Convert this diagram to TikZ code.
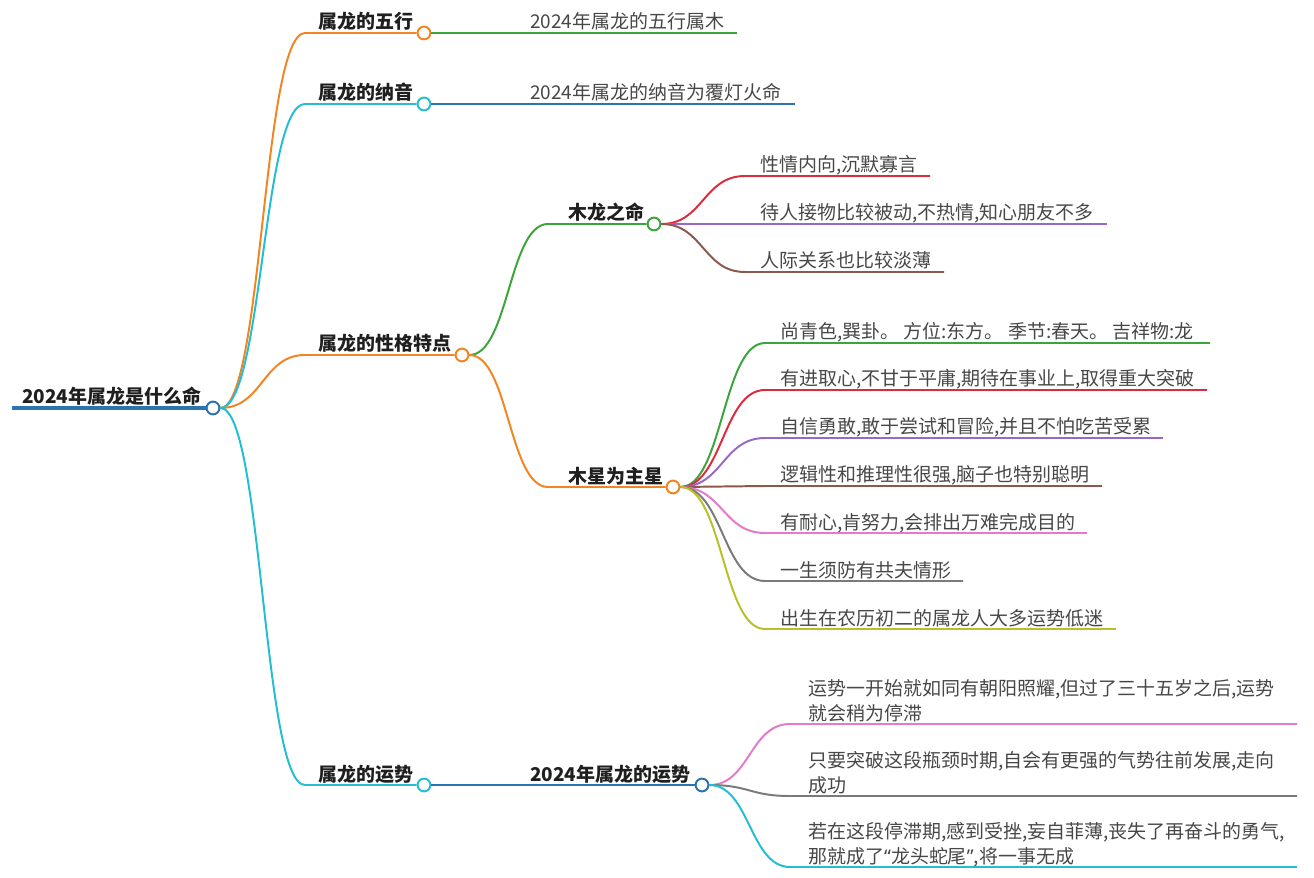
\documentclass[tikz,border=0pt]{standalone}
\usepackage{fontspec}
\setmainfont{Noto Sans CJK SC}
\newfontfamily\quotefont{Noto Sans}
\usetikzlibrary{calc}
\definecolor{orangeline}{RGB}{242,133,34}
\definecolor{cyanline}{RGB}{36,189,210}
\definecolor{blueline}{RGB}{44,115,177}
\definecolor{greenline}{RGB}{58,166,58}
\definecolor{redline}{RGB}{221,42,62}
\definecolor{purpleline}{RGB}{152,104,200}
\definecolor{brownline}{RGB}{140,88,76}
\definecolor{pinkline}{RGB}{228,122,200}
\definecolor{grayline}{RGB}{122,122,122}
\definecolor{oliveline}{RGB}{186,190,42}

\begin{document}
\begin{tikzpicture}[
    x=0.025cm, y=-0.025cm,
    title/.style={font=\bfseries\fontsize{13.5}{16}\selectfont, text=black!88, inner sep=0pt, anchor=base west},
    leaf/.style={font=\fontsize{13.5}{17.4}\selectfont, text=black!72, inner sep=0pt, anchor=base west, align=left},
    hub/.style={circle, draw=#1, fill=white, line width=1.4pt, minimum size=0.32cm, inner sep=0pt},
    link/.style={draw=#1, line width=1.4pt},
    branch/.style={to path={let \p1=(\tikztostart), \p2=(\tikztotarget) in
        .. controls ({(\x1+\x2)/2},\y1) and ({(\x1+\x2)/2},\y2) .. (\tikztotarget)}}
]
\useasboundingbox (0,0) rectangle (1314,878);

% Root
\node[title] (root) at (22,404) {2024年属龙是什么命};
\node[hub=blueline] (h0) at (213,408) {};
\coordinate (bar) at (12,408);
\draw[link=blueline, line width=3.2pt] (bar) -- (h0.west);

% Level 1
\node[title] (wuxing) at (318,29) {属龙的五行};
\node[hub=orangeline] (hwuxing) at (424,33) {};
\coordinate (swuxing) at (305,33);

\node[title] (nayin) at (318,100) {属龙的纳音};
\node[hub=cyanline] (hnayin) at (424,104) {};
\coordinate (snayin) at (305,104);

\node[title] (xingge) at (318,351) {属龙的性格特点};
\node[hub=orangeline] (hxingge) at (462,355) {};
\coordinate (sxingge) at (305,355);

\node[title] (yunshi) at (318,781) {属龙的运势};
\node[hub=cyanline] (hyunshi) at (424,785) {};
\coordinate (syunshi) at (305,785);

\draw[link=orangeline] (h0.east) to[branch] (swuxing) -- (hwuxing.west);
\draw[link=cyanline] (h0.east) to[branch] (snayin) -- (hnayin.west);
\draw[link=orangeline] (h0.east) to[branch] (sxingge) -- (hxingge.west);
\draw[link=cyanline] (h0.east) to[branch] (syunshi) -- (hyunshi.west);

% Wuxing and nayin
\node[leaf] (wuxingA) at (530,29) {2024年属龙的五行属木};
\coordinate (ewuxing) at (737,33);
\draw[link=greenline] (hwuxing.east) -- (ewuxing);

\node[leaf] (nayinA) at (530,100) {2024年属龙的纳音为覆灯火命};
\coordinate (enayin) at (795,104);
\draw[link=blueline] (hnayin.east) -- (enayin);

% Xingge
\node[title] (mulong) at (568,220) {木龙之命};
\node[hub=greenline] (hmulong) at (654,224) {};
\coordinate (smulong) at (548,224);

\node[title] (muxing) at (568,483) {木星为主星};
\node[hub=orangeline] (hmuxing) at (673,487) {};
\coordinate (smuxing) at (548,487);

\draw[link=greenline] (hxingge.east) to[branch] (smulong) -- (hmulong.west);
\draw[link=orangeline] (hxingge.east) to[branch] (smuxing) -- (hmuxing.west);

% Mulong leaves
\node[leaf] (mlA) at (760,172) {性情内向,沉默寡言};
\node[leaf] (mlB) at (760,220) {待人接物比较被动,不热情,知心朋友不多};
\node[leaf] (mlC) at (760,268) {人际关系也比较淡薄};
\coordinate (smlA) at (745,176); \coordinate (emlA) at (930,176);
\coordinate (smlB) at (745,224); \coordinate (emlB) at (1107,224);
\coordinate (smlC) at (745,272); \coordinate (emlC) at (944,272);
\draw[link=redline] (hmulong.east) to[branch] (smlA) -- (emlA);
\draw[link=purpleline] (hmulong.east) to[branch] (smlB) -- (emlB);
\draw[link=brownline] (hmulong.east) to[branch] (smlC) -- (emlC);

% Muxing leaves
\node[leaf] (mxA) at (780,339) {尚青色,巽卦。 方位:东方。 季节:春天。 吉祥物:龙};
\node[leaf] (mxB) at (780,386) {有进取心,不甘于平庸,期待在事业上,取得重大突破};
\node[leaf] (mxC) at (780,434) {自信勇敢,敢于尝试和冒险,并且不怕吃苦受累};
\node[leaf] (mxD) at (780,482) {逻辑性和推理性很强,脑子也特别聪明};
\node[leaf] (mxE) at (780,529) {有耐心,肯努力,会排出万难完成目的};
\node[leaf] (mxF) at (780,577) {一生须防有共夫情形};
\node[leaf] (mxG) at (780,625) {出生在农历初二的属龙人大多运势低迷};
\coordinate (smxA) at (765,343); \coordinate (emxA) at (1210,343);
\coordinate (smxB) at (765,390); \coordinate (emxB) at (1207,390);
\coordinate (smxC) at (765,438); \coordinate (emxC) at (1163,438);
\coordinate (smxD) at (765,486); \coordinate (emxD) at (1102,486);
\coordinate (smxE) at (765,533); \coordinate (emxE) at (1087,533);
\coordinate (smxF) at (765,581); \coordinate (emxF) at (963,581);
\coordinate (smxG) at (765,629); \coordinate (emxG) at (1116,629);
\draw[link=greenline] (hmuxing.east) to[branch] (smxA) -- (emxA);
\draw[link=redline] (hmuxing.east) to[branch] (smxB) -- (emxB);
\draw[link=purpleline] (hmuxing.east) to[branch] (smxC) -- (emxC);
\draw[link=brownline] (hmuxing.east) to[branch] (smxD) -- (emxD);
\draw[link=pinkline] (hmuxing.east) to[branch] (smxE) -- (emxE);
\draw[link=grayline] (hmuxing.east) to[branch] (smxF) -- (emxF);
\draw[link=oliveline] (hmuxing.east) to[branch] (smxG) -- (emxG);

% Yunshi
\node[title] (yunshiB) at (530,781) {2024年属龙的运势};
\node[hub=blueline] (hyunshiB) at (702,785) {};
\draw[link=blueline] (hyunshi.east) -- (hyunshiB.west);

\node[leaf] (ysA) at (808,720) {运势一开始就如同有朝阳照耀,但过了三十五岁之后,运势\\就会稍为停滞};
\node[leaf] (ysB) at (808,792) {只要突破这段瓶颈时期,自会有更强的气势往前发展,走向\\成功};
\node[leaf] (ysC) at (808,863) {若在这段停滞期,感到受挫,妄自菲薄,丧失了再奋斗的勇气,\\那就成了{\quotefont“}龙头蛇尾{\quotefont”},将一事无成};
\coordinate (sysA) at (790,724); \coordinate (eysA) at (1297,724);
\coordinate (sysB) at (790,796); \coordinate (eysB) at (1297,796);
\coordinate (sysC) at (790,867); \coordinate (eysC) at (1297,867);
\draw[link=pinkline] (hyunshiB.east) to[branch] (sysA) -- (eysA);
\draw[link=grayline] (hyunshiB.east) to[branch] (sysB) -- (eysB);
\draw[link=cyanline] (hyunshiB.east) to[branch] (sysC) -- (eysC);
\end{tikzpicture}
\end{document}
